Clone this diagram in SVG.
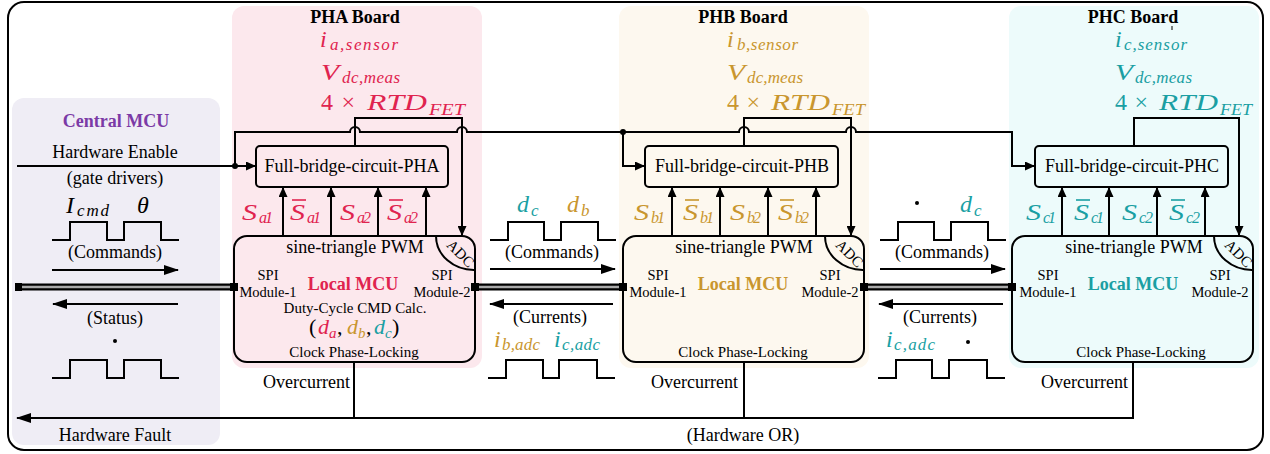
<svg xmlns="http://www.w3.org/2000/svg" width="1270" height="454" viewBox="0 0 1270 454">
<style>
text{font-family:"Liberation Serif","Times New Roman",serif;fill:#000}
.t18{font-size:18px}
.t15{font-size:15px}
.t14{font-size:14.5px}
.b{font-weight:bold}
.c{text-anchor:middle}
.e{text-anchor:end}
.m{font-style:italic}
.red{fill:#e0234f}
.gold{fill:#c9962e}
.teal{fill:#1a9fa3}
.pur{fill:#7b3aa6}
.ln{fill:none;stroke:#000;stroke-width:2}
.box{fill:none;stroke:#000;stroke-width:2}
.sq{fill:#000}
.busO{stroke:#000;stroke-width:7;fill:none}
.busI{stroke:#aaa;stroke-width:2.5;fill:none}
</style>
<defs>
<marker id="a" markerWidth="10" markerHeight="9" refX="9" refY="4.5" orient="auto" markerUnits="userSpaceOnUse"><path d="M0,0 L10,4.5 L0,9 z" fill="#000"/></marker>
<marker id="A" markerWidth="15" markerHeight="10" refX="14" refY="5" orient="auto" markerUnits="userSpaceOnUse"><path d="M0,0 L15,5 L0,10 z" fill="#000"/></marker>
</defs>

<rect x="8" y="2" width="1255" height="448" rx="16" fill="#fff" stroke="#000" stroke-width="2"/>

<rect x="232" y="6" width="250" height="362" rx="12" fill="#fce8ed"/>
<rect x="619" y="6" width="250" height="362" rx="12" fill="#fdf8ef"/>
<rect x="1009" y="6" width="250" height="362" rx="12" fill="#edfbfb"/>
<rect x="12" y="98" width="208" height="347" rx="12" fill="#efedf5"/>

<g id="connectors">
  <path class="ln" d="M17,166 H255" marker-end="url(#a)"/>
  <path class="ln" d="M235,166 V132 H350 A5,5 0 0 1 360,132 H457 A5,5 0 0 1 467,132 H739 A5,5 0 0 1 749,132 H846 A5,5 0 0 1 856,132 H1012 V166 H1034" marker-end="url(#a)"/>
  <path class="ln" d="M623,132 V166 H644" marker-end="url(#a)"/>
  <circle cx="235" cy="166" r="3"/>
  <circle cx="623" cy="132" r="3"/>
  <path class="ln" d="M355,146 V118 H462 V235" marker-end="url(#a)"/>
  <path class="ln" d="M744,146 V118 H851 V235" marker-end="url(#a)"/>
  <path class="ln" d="M1134,146 V118 H1239 V235" marker-end="url(#a)"/>
  <path class="ln" d="M283,236 V188" marker-end="url(#a)"/>
  <path class="ln" d="M331,236 V188" marker-end="url(#a)"/>
  <path class="ln" d="M378,236 V188" marker-end="url(#a)"/>
  <path class="ln" d="M426,236 V188" marker-end="url(#a)"/>
  <path class="ln" d="M672,236 V188" marker-end="url(#a)"/>
  <path class="ln" d="M720,236 V188" marker-end="url(#a)"/>
  <path class="ln" d="M768,236 V188" marker-end="url(#a)"/>
  <path class="ln" d="M816,236 V188" marker-end="url(#a)"/>
  <path class="ln" d="M1062,236 V188" marker-end="url(#a)"/>
  <path class="ln" d="M1109,236 V188" marker-end="url(#a)"/>
  <path class="ln" d="M1157,236 V188" marker-end="url(#a)"/>
  <path class="ln" d="M1205,236 V188" marker-end="url(#a)"/>
  <path class="busO" d="M17,287 H234 M475,287 H623 M864,287 H1012"/>
  <path class="busI" d="M17,287 H234 M475,287 H623 M864,287 H1012"/>
  <rect class="sq" x="15" y="283" width="7" height="8"/>
  <rect class="sq" x="230" y="283" width="8" height="8"/>
  <rect class="sq" x="471" y="283" width="8" height="8"/>
  <rect class="sq" x="619" y="283" width="8" height="8"/>
  <rect class="sq" x="860" y="283" width="8" height="8"/>
  <rect class="sq" x="1008" y="283" width="8" height="8"/>
  <path class="ln" d="M52,270 H178" marker-end="url(#A)"/>
  <path class="ln" d="M178,304 H53" marker-end="url(#A)"/>
  <path class="ln" d="M490,269 H615" marker-end="url(#A)"/>
  <path class="ln" d="M613,304 H490" marker-end="url(#A)"/>
  <path class="ln" d="M880,269 H1005" marker-end="url(#A)"/>
  <path class="ln" d="M1003,304 H879" marker-end="url(#A)"/>
  <path class="ln" d="M52,240 H70 V222 H107 V240 H124 V222 H161 V240 H179"/>
  <path class="ln" d="M52,378 H70 V360 H107 V378 H124 V360 H161 V378 H179"/>
  <path class="ln" d="M490,240 H508 V222 H544 V240 H561 V222 H598 V240 H616"/>
  <path class="ln" d="M488,378 H506 V360 H543 V378 H559 V360 H597 V378 H615"/>
  <path class="ln" d="M880,240 H898 V222 H934 V240 H951 V222 H988 V240 H1006"/>
  <path class="ln" d="M878,378 H896 V360 H932 V378 H949 V360 H987 V378 H1005"/>
  <path class="ln" d="M354,362 V418 M744,362 V418"/>
  <path class="ln" d="M1133,362 V418 H17" marker-end="url(#A)"/>
  <line x1="1172" y1="26" x2="1172" y2="30" stroke="#000" stroke-width="1"/>
</g>

<g id="central">
  <text class="t18 b c pur" x="116" y="127">Central MCU</text>
  <text class="t18 c" x="115" y="158">Hardware Enable</text>
  <text class="t18 c" x="115" y="184">(gate drivers)</text>
  <text class="m" x="66" y="213" font-size="24">I</text>
  <text class="m" x="77" y="216" font-size="17" textLength="32">cmd</text>
  <text class="m" x="137" y="213" font-size="24">θ</text>
  <text class="t18 c" x="115" y="258">(Commands)</text>
  <text class="t18 c" x="115" y="324">(Status)</text>
  <circle cx="115" cy="341" r="2"/>
  <text class="t18 c" x="115" y="441">Hardware Fault</text>
</g>

<g id="pha">
  <text class="t18 b c" x="355" y="23">PHA Board</text>
  <text class="m red" x="320" y="47" font-size="24">i</text>
  <text class="m red" x="330" y="50" font-size="17" textLength="68">a,sensor</text>
  <text class="m red" x="321" y="80" font-size="24" textLength="18" lengthAdjust="spacingAndGlyphs">V</text>
  <text class="m red" x="342" y="83" font-size="17" textLength="58">dc,meas</text>
  <text class="red" x="321" y="110" font-size="24" textLength="34">4 ×</text>
  <text class="m red" x="367" y="110" font-size="24" textLength="60" lengthAdjust="spacingAndGlyphs">RTD</text>
  <text class="m red" x="429" y="115" font-size="17" textLength="36" lengthAdjust="spacingAndGlyphs">FET</text>
  <rect class="box" x="256" y="146" width="192" height="41" rx="4"/>
  <text class="t18 c" x="352" y="172">Full-bridge-circuit-PHA</text>
  <text class="m red" x="242" y="220" font-size="23" textLength="15" lengthAdjust="spacingAndGlyphs">S</text>
  <text class="m red" x="259" y="223" font-size="16" textLength="14">a1</text>
  <text class="m red" x="290" y="220" font-size="23" textLength="15" lengthAdjust="spacingAndGlyphs">S</text>
  <text class="m red" x="307" y="223" font-size="16" textLength="14">a1</text>
  <line x1="292" y1="200" x2="306" y2="200" stroke="#e0234f" stroke-width="1.6"/>
  <text class="m red" x="340" y="220" font-size="23" textLength="15" lengthAdjust="spacingAndGlyphs">S</text>
  <text class="m red" x="357" y="223" font-size="16" textLength="14">a2</text>
  <text class="m red" x="387" y="220" font-size="23" textLength="15" lengthAdjust="spacingAndGlyphs">S</text>
  <text class="m red" x="404" y="223" font-size="16" textLength="14">a2</text>
  <line x1="389" y1="200" x2="403" y2="200" stroke="#e0234f" stroke-width="1.6"/>
  <rect class="box" x="234" y="236" width="241" height="126" rx="13"/>
  <path class="ln" d="M436,236 A38,34 0 0 0 475,270"/>
  <text class="t15 c" transform="translate(457,257) rotate(45)">ADC</text>
  <text class="t18 c" x="355" y="253">sine-triangle PWM</text>
  <text class="t14 c" x="268" y="280">SPI</text>
  <text class="t14 c" x="268" y="297">Module-1</text>
  <text class="t14 c" x="442" y="280">SPI</text>
  <text class="t14 c" x="442" y="297">Module-2</text>
  <text class="t18 b c red" x="353" y="290">Local MCU</text>
  <text class="t15 c" x="355" y="313">Duty-Cycle CMD Calc.</text>
  <text x="309" y="334" font-size="22">(</text>
  <text class="m red" x="318" y="334" font-size="22">d</text>
  <text class="m red" x="329" y="338" font-size="15">a</text>
  <text x="337" y="334" font-size="22">,</text>
  <text class="m gold" x="347" y="334" font-size="22">d</text>
  <text class="m gold" x="358" y="338" font-size="15">b</text>
  <text x="366" y="334" font-size="22">,</text>
  <text class="m teal" x="374" y="334" font-size="22">d</text>
  <text class="m teal" x="385" y="338" font-size="15">c</text>
  <text x="392" y="334" font-size="22">)</text>
  <text class="t15 c" x="354" y="357">Clock Phase-Locking</text>
  <text class="t18 e" x="350" y="388">Overcurrent</text>
</g>

<g id="gapAB">
  <text class="m teal" x="517" y="212" font-size="24">d</text>
  <text class="m teal" x="531" y="216" font-size="17">c</text>
  <text class="m gold" x="567" y="212" font-size="24">d</text>
  <text class="m gold" x="581" y="216" font-size="17">b</text>
  <text class="t18 c" x="552" y="258">(Commands)</text>
  <text class="t18 c" x="550" y="323">(Currents)</text>
  <text class="m gold" x="494" y="347" font-size="24">i</text>
  <text class="m gold" x="502" y="350" font-size="17" textLength="38">b,adc</text>
  <text class="m teal" x="554" y="347" font-size="24">i</text>
  <text class="m teal" x="562" y="350" font-size="17" textLength="38">c,adc</text>
</g>

<g id="phb">
  <text class="t18 b c" x="743" y="23">PHB Board</text>
  <text class="m gold" x="727" y="47" font-size="24">i</text>
  <text class="m gold" x="737" y="50" font-size="17" textLength="61">b,sensor</text>
  <text class="m gold" x="727" y="80" font-size="24" textLength="18" lengthAdjust="spacingAndGlyphs">V</text>
  <text class="m gold" x="747" y="83" font-size="17" textLength="56">dc,meas</text>
  <text class="gold" x="727" y="110" font-size="24" textLength="33">4 ×</text>
  <text class="m gold" x="771" y="110" font-size="24" textLength="59" lengthAdjust="spacingAndGlyphs">RTD</text>
  <text class="m gold" x="832" y="115" font-size="17" textLength="33" lengthAdjust="spacingAndGlyphs">FET</text>
  <rect class="box" x="645" y="146" width="193" height="41" rx="4"/>
  <text class="t18 c" x="742" y="172">Full-bridge-circuit-PHB</text>
  <text class="m gold" x="634" y="220" font-size="23" textLength="15" lengthAdjust="spacingAndGlyphs">S</text>
  <text class="m gold" x="651" y="223" font-size="16" textLength="14">b1</text>
  <text class="m gold" x="683" y="220" font-size="23" textLength="15" lengthAdjust="spacingAndGlyphs">S</text>
  <text class="m gold" x="700" y="223" font-size="16" textLength="14">b1</text>
  <line x1="685" y1="200" x2="699" y2="200" stroke="#c9962e" stroke-width="1.6"/>
  <text class="m gold" x="730" y="220" font-size="23" textLength="15" lengthAdjust="spacingAndGlyphs">S</text>
  <text class="m gold" x="747" y="223" font-size="16" textLength="14">b2</text>
  <text class="m gold" x="778" y="220" font-size="23" textLength="15" lengthAdjust="spacingAndGlyphs">S</text>
  <text class="m gold" x="795" y="223" font-size="16" textLength="14">b2</text>
  <line x1="780" y1="200" x2="794" y2="200" stroke="#c9962e" stroke-width="1.6"/>
  <rect class="box" x="623" y="236" width="241" height="126" rx="13"/>
  <path class="ln" d="M825,236 A38,34 0 0 0 864,270"/>
  <text class="t15 c" transform="translate(846,257) rotate(45)">ADC</text>
  <text class="t18 c" x="744" y="253">sine-triangle PWM</text>
  <text class="t14 c" x="658" y="280">SPI</text>
  <text class="t14 c" x="658" y="297">Module-1</text>
  <text class="t14 c" x="830" y="280">SPI</text>
  <text class="t14 c" x="830" y="297">Module-2</text>
  <text class="t18 b c gold" x="743" y="290">Local MCU</text>
  <text class="t15 c" x="743" y="357">Clock Phase-Locking</text>
  <text class="t18 e" x="738" y="388">Overcurrent</text>
</g>

<g id="gapBC">
  <circle cx="917" cy="203" r="2"/>
  <text class="m teal" x="960" y="212" font-size="24">d</text>
  <text class="m teal" x="974" y="216" font-size="17">c</text>
  <text class="t18 c" x="942" y="258">(Commands)</text>
  <text class="t18 c" x="940" y="323">(Currents)</text>
  <text class="m teal" x="886" y="347" font-size="24">i</text>
  <text class="m teal" x="894" y="350" font-size="17" textLength="41">c,adc</text>
  <circle cx="968" cy="342" r="2"/>
</g>

<g id="phc">
  <text class="t18 b c" x="1133" y="23">PHC Board</text>
  <text class="m teal" x="1115" y="47" font-size="24">i</text>
  <text class="m teal" x="1124" y="50" font-size="17" textLength="63">c,sensor</text>
  <text class="m teal" x="1115" y="80" font-size="24" textLength="18" lengthAdjust="spacingAndGlyphs">V</text>
  <text class="m teal" x="1135" y="83" font-size="17" textLength="57">dc,meas</text>
  <text class="teal" x="1115" y="110" font-size="24" textLength="33">4 ×</text>
  <text class="m teal" x="1159" y="110" font-size="24" textLength="59" lengthAdjust="spacingAndGlyphs">RTD</text>
  <text class="m teal" x="1220" y="115" font-size="17" textLength="32" lengthAdjust="spacingAndGlyphs">FET</text>
  <rect class="box" x="1035" y="146" width="193" height="41" rx="4"/>
  <text class="t18 c" x="1132" y="172">Full-bridge-circuit-PHC</text>
  <text class="m teal" x="1026" y="220" font-size="23" textLength="15" lengthAdjust="spacingAndGlyphs">S</text>
  <text class="m teal" x="1043" y="223" font-size="16" textLength="13">c1</text>
  <text class="m teal" x="1074" y="220" font-size="23" textLength="15" lengthAdjust="spacingAndGlyphs">S</text>
  <text class="m teal" x="1091" y="223" font-size="16" textLength="13">c1</text>
  <line x1="1076" y1="200" x2="1090" y2="200" stroke="#1a9fa3" stroke-width="1.6"/>
  <text class="m teal" x="1122" y="220" font-size="23" textLength="15" lengthAdjust="spacingAndGlyphs">S</text>
  <text class="m teal" x="1139" y="223" font-size="16" textLength="14">c2</text>
  <text class="m teal" x="1169" y="220" font-size="23" textLength="15" lengthAdjust="spacingAndGlyphs">S</text>
  <text class="m teal" x="1186" y="223" font-size="16" textLength="14">c2</text>
  <line x1="1171" y1="200" x2="1185" y2="200" stroke="#1a9fa3" stroke-width="1.6"/>
  <rect class="box" x="1012" y="236" width="241" height="126" rx="13"/>
  <path class="ln" d="M1214,236 A38,34 0 0 0 1253,270"/>
  <text class="t15 c" transform="translate(1235,257) rotate(45)">ADC</text>
  <text class="t18 c" x="1134" y="253">sine-triangle PWM</text>
  <text class="t14 c" x="1048" y="280">SPI</text>
  <text class="t14 c" x="1048" y="297">Module-1</text>
  <text class="t14 c" x="1220" y="280">SPI</text>
  <text class="t14 c" x="1220" y="297">Module-2</text>
  <text class="t18 b c teal" x="1133" y="290">Local MCU</text>
  <text class="t15 c" x="1141" y="357">Clock Phase-Locking</text>
  <text class="t18 e" x="1128" y="388">Overcurrent</text>
</g>

<text class="t18 c" x="743" y="441">(Hardware OR)</text>
</svg>
